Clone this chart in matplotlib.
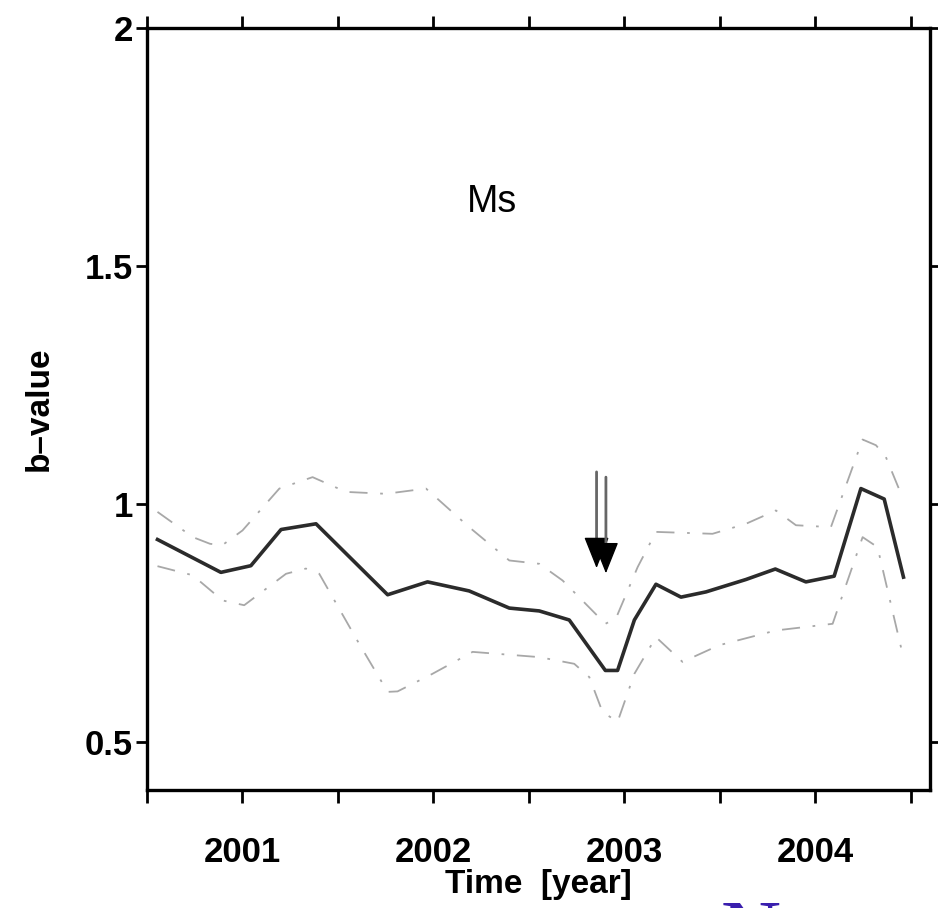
import matplotlib
matplotlib.use('Agg')
import matplotlib.pyplot as plt
from matplotlib.ticker import MultipleLocator

# b-value time series
years = [2000.555, 2000.887, 2001.044, 2001.202, 2001.385, 2001.760, 2001.969,
         2002.187, 2002.397, 2002.554, 2002.711, 2002.900, 2002.964, 2003.052,
         2003.165, 2003.296, 2003.427, 2003.636, 2003.790, 2003.950, 2004.098,
         2004.238, 2004.360, 2004.461]
bvalue = [0.926, 0.857, 0.871, 0.947, 0.959, 0.810, 0.837, 0.818, 0.782, 0.776,
          0.757, 0.651, 0.651, 0.757, 0.832, 0.805, 0.816, 0.842, 0.864, 0.837,
          0.849, 1.033, 1.011, 0.847]

# upper error bound
up_years = [2000.555, 2000.740, 2000.830, 2000.894, 2001.000, 2001.193, 2001.367,
            2001.542, 2001.751, 2001.961, 2002.187, 2002.397, 2002.554, 2002.676,
            2002.900, 2002.955, 2003.069, 2003.165, 2003.461, 2003.636, 2003.793,
            2003.898, 2004.081, 2004.247, 2004.317, 2004.369, 2004.448]
up_b = [0.984, 0.931, 0.917, 0.914, 0.945, 1.033, 1.057, 1.026, 1.022, 1.033,
        0.952, 0.882, 0.875, 0.840, 0.749, 0.760, 0.868, 0.942, 0.938, 0.959,
        0.987, 0.956, 0.952, 1.136, 1.124, 1.099, 1.022]

# lower error bound
lo_years = [2000.555, 2000.739, 2000.896, 2001.009, 2001.228, 2001.332, 2001.402,
            2001.611, 2001.760, 2001.812, 2001.995, 2002.205, 2002.554, 2002.737,
            2002.816, 2002.885, 2002.964, 2003.052, 2003.165, 2003.304, 2003.496,
            2003.793, 2004.090, 2004.247, 2004.325, 2004.456]
lo_b = [0.870, 0.851, 0.798, 0.788, 0.854, 0.865, 0.854, 0.707, 0.606, 0.607,
        0.644, 0.690, 0.679, 0.665, 0.637, 0.564, 0.543, 0.644, 0.721, 0.669,
        0.704, 0.735, 0.749, 0.931, 0.910, 0.686]

# event arrows: x, tip, tail
arrow_x = [2002.854, 2002.903]
arrow_tip = [0.866, 0.855]
arrow_tail = [1.068, 1.057]

year_ticks = [2001, 2002, 2003, 2004]
year_labels = ['2001', '2002', '2003', '2004']

plt.rcParams['font.family'] = ['Liberation Sans', 'DejaVu Sans']

fig = plt.figure(figsize=(9.38, 9.08), dpi=100)
ax = fig.add_axes([0.1567, 0.130, 0.8348, 0.839])

band = dict(color='#a8a8a8', lw=1.3, linestyle=(0, (10, 7, 1.5, 7)))
ax.plot(up_years, up_b, **band)
ax.plot(lo_years, lo_b, **band)
ax.plot(years, bvalue, color='#2b2b2b', lw=2.6)

# double arrow marking the event: gray shafts, solid black heads
for x, tip, tail in zip(arrow_x, arrow_tip, arrow_tail):
    ax.annotate('', xy=(x, tip + 0.03), xytext=(x, tail),
                arrowprops=dict(arrowstyle='-', color='#666666', lw=2,
                                shrinkA=0, shrinkB=0))
    ax.annotate('', xy=(x, tip), xytext=(x, tip + 0.06),
                arrowprops=dict(arrowstyle='-|>,head_length=0.5,head_width=0.2',
                                color='black', lw=1, mutation_scale=40,
                                shrinkA=0, shrinkB=0))

ax.text(2002.308, 1.6355, 'Ms', fontsize=27, ha='center', va='center')

ax.set_xlim(2000.5, 2004.6)
ax.set_ylim(0.4, 2.0)
ax.set_xticks(year_ticks)
ax.set_xticklabels(year_labels)
ax.xaxis.set_minor_locator(MultipleLocator(0.5))
ax.set_yticks([0.5, 1.0, 1.5, 2.0])
ax.set_yticklabels(['0.5', '1', '1.5', '2'])

for s in ax.spines.values():
    s.set_linewidth(2.4)

ax.tick_params(axis='x', which='both', direction='out', length=9, width=2,
               top=True, bottom=True, pad=24)
ax.tick_params(axis='y', direction='out', length=8, width=2,
               left=True, right=True, pad=2)
for lab in ax.get_xticklabels() + ax.get_yticklabels():
    lab.set_fontsize(25)
    lab.set_fontweight('bold')

ax.set_xlabel('Time  [year]', fontsize=24, fontweight='bold', labelpad=0)
ax.set_ylabel('b\u2013value', fontsize=24, fontweight='bold', labelpad=22)

fig.text(0.80, 0.009, 'N', fontsize=60, family='Liberation Serif',
         color='#3a1fae', ha='center', va='top')

fig.savefig('out.png', dpi=100)
